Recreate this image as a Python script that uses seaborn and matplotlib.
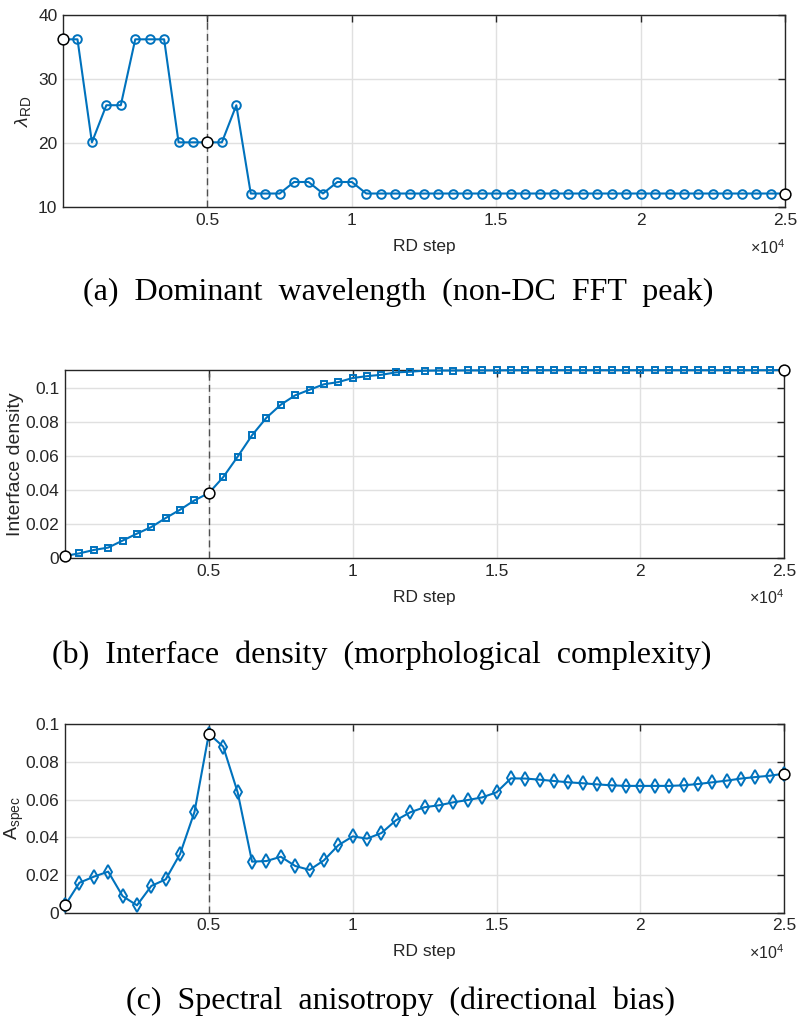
import numpy as np
import matplotlib
matplotlib.use("Agg")
import matplotlib.pyplot as plt
import seaborn as sns

# RD steps (x axis), one sample every 500 steps
steps = list(range(0, 25001, 500))

# (a) dominant wavelength
wavelength = [36.2, 36.2, 20.1, 25.9, 25.9, 36.2, 36.2, 36.2, 20.1, 20.1,
              20.1, 20.1, 25.9, 12.1, 12.1, 12.1, 13.9, 13.9, 12.1, 13.9,
              13.9] + [12.1] * 30

# (b) interface density
density = [0.0014, 0.0029, 0.0049, 0.0063, 0.0104, 0.0145, 0.0184, 0.0237,
           0.0286, 0.0341, 0.0384, 0.0478, 0.0598, 0.0724, 0.0827, 0.0904,
           0.0959, 0.0992, 0.1024, 0.1037, 0.1061, 0.1072, 0.1080, 0.1094,
           0.1098, 0.1104, 0.1105, 0.1105, 0.1106, 0.1106, 0.1106, 0.1107,
           0.1107, 0.1107, 0.1107, 0.1107, 0.1107, 0.1107, 0.1107, 0.1107,
           0.1107, 0.1107, 0.1107, 0.1107, 0.1107, 0.1107, 0.1107, 0.1107,
           0.1107, 0.1107, 0.1108]

# (c) spectral anisotropy
aniso = [0.0039, 0.0159, 0.0191, 0.0218, 0.0088, 0.0039, 0.0142, 0.0177,
         0.0312, 0.0535, 0.0950, 0.0881, 0.0639, 0.0271, 0.0274, 0.0297,
         0.0248, 0.0227, 0.0278, 0.0358, 0.0405, 0.0393, 0.0423, 0.0490,
         0.0533, 0.0560, 0.0570, 0.0586, 0.0598, 0.0612, 0.0639, 0.0713,
         0.0712, 0.0706, 0.0699, 0.0692, 0.0687, 0.0681, 0.0676, 0.0673,
         0.0673, 0.0673, 0.0673, 0.0676, 0.0683, 0.0692, 0.0701, 0.0712,
         0.0720, 0.0727, 0.0738]

# highlighted snapshots
snap_steps = [0, 5000, 25000]
xtick_vals = [5000, 10000, 15000, 20000, 25000]
xtick_labels = ["0.5", "1", "1.5", "2", "2.5"]

captions = ["(a)  Dominant  wavelength  (non-DC  FFT  peak)",
            "(b)  Interface  density  (morphological  complexity)",
            "(c)  Spectral  anisotropy  (directional  bias)"]

sns.set_theme(style="whitegrid")
plt.rcParams["font.family"] = ["Liberation Sans", "DejaVu Sans"]
plt.rcParams["mathtext.fontset"] = "custom"
plt.rcParams["mathtext.rm"] = "Liberation Sans"
plt.rcParams["mathtext.it"] = "Liberation Sans:italic"

blue = "#0072BD"
dark = "#262626"

fig = plt.figure(figsize=(8, 10.21), dpi=100)
ax_a = fig.add_axes([0.0788, 0.7973, 0.9025, 0.188])
ax_b = fig.add_axes([0.0813, 0.4532, 0.899, 0.1844])
ax_c = fig.add_axes([0.0813, 0.1061, 0.899, 0.1845])

panels = [
    (ax_a, wavelength, "o", 6.2, (10, 40), [10, 20, 30, 40], ["10", "20", "30", "40"],
     r"$\mathit{\lambda}_{\mathrm{RD}}$", -0.042),
    (ax_b, density, "s", 5, (0, 0.1108), [0, 0.02, 0.04, 0.06, 0.08, 0.1],
     ["0", "0.02", "0.04", "0.06", "0.08", "0.1"], "Interface density", -0.057),
    (ax_c, aniso, "d", 7.5, (0, 0.1), [0, 0.02, 0.04, 0.06, 0.08, 0.1],
     ["0", "0.02", "0.04", "0.06", "0.08", "0.1"], r"$\mathrm{A}_{\mathrm{spec}}$", -0.054),
]

for ax, vals, mk, ms, ylim, yt, ytl, ylab, lx in panels:
    ax.axvline(5000, color="#505050", linestyle=(0, (5, 3)), linewidth=1, zorder=1)
    sns.lineplot(x=steps, y=vals, ax=ax, color=blue, linewidth=1.5,
                 marker=mk, markersize=ms, markerfacecolor="none",
                 markeredgecolor=blue, markeredgewidth=1.4, zorder=3, clip_on=False)
    snap_vals = [vals[steps.index(s)] for s in snap_steps]
    sns.scatterplot(x=snap_steps, y=snap_vals, ax=ax, s=60, facecolor="white",
                    edgecolor="black", linewidth=1.1, zorder=5, clip_on=False)
    ax.set_xlim(0, 25000)
    ax.set_ylim(*ylim)
    ax.set_xticks(xtick_vals)
    ax.set_xticklabels(xtick_labels)
    ax.set_yticks(yt)
    ax.set_yticklabels(ytl)
    ax.grid(True, color="#e0e0e0", linewidth=1)
    ax.tick_params(direction="in", length=5, width=1, colors=dark, labelsize=12.5,
                   top=True, right=True, pad=4, labelcolor=dark)
    for sp in ax.spines.values():
        sp.set_color(dark)
        sp.set_linewidth(1)
    ax.set_xlabel("RD step", fontsize=12.5, color=dark, labelpad=8)
    ax.set_ylabel(ylab, fontsize=14, color=dark)
    ax.yaxis.set_label_coords(lx, 0.5)
    ax.text(1.0, -0.21, r"$\times10^{4}$", transform=ax.transAxes, ha="right",
            va="center", fontsize=11.5, color=dark)

cap_x = [0.4975, 0.4775, 0.5]
cap_y = [0.714, 0.3585, 0.0196]
for t, x, y in zip(captions, cap_x, cap_y):
    fig.text(x, y, t, ha="center", va="center", fontsize=23,
             family=["Liberation Serif", "DejaVu Serif"], color="black")

fig.savefig("out.png", dpi=100)
